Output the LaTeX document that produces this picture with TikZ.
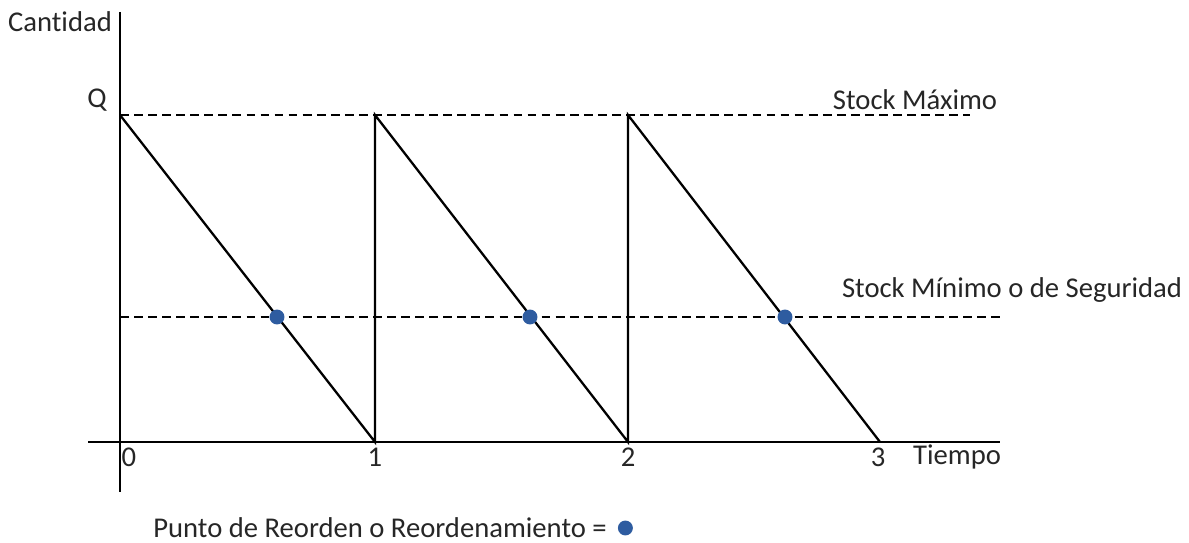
\documentclass[tikz,border=0pt]{standalone}
\usepackage{fontspec}
\setmainfont{Carlito}[Ligatures=NoCommon]
\usetikzlibrary{positioning}
\definecolor{dotblue}{RGB}{46,92,160}
\tikzset{
  eje/.style={line width=1.4pt},
  nivel/.style={line width=1.3pt, dash pattern=on 5pt off 3pt},
  diente/.style={line width=1.3pt},
  reorden/.style={circle, fill=dotblue, inner sep=0pt, minimum size=8.5pt},
  etiq/.style={inner sep=0pt, font=\fontsize{16.3}{19}\selectfont, text=black!85}
}
\begin{document}
\begin{tikzpicture}[x=0.02cm, y=-0.02cm]
      \useasboundingbox (0,0) rectangle (1189,543);

      % ejes
      \coordinate (Ytop) at (120,12);
      \coordinate (Ybot) at (120,492);
      \coordinate (Xleft) at (88,442);
      \coordinate (Xright) at (1000,442);
      \draw[eje] (Ytop) -- (Ybot);
      \draw[eje] (Xleft) -- (Xright);

      % niveles
      \coordinate (Qa) at (120,115);
      \coordinate (Qb) at (970,115);
      \coordinate (Sa) at (120,317);
      \coordinate (Sb) at (1000,317);
      \draw[nivel] (Qa) -- (Qb);
      \draw[nivel] (Sa) -- (Sb);

      % dientes de sierra
      \coordinate (T1) at (375,442);
      \coordinate (T1q) at (375,115);
      \coordinate (T2) at (628,442);
      \coordinate (T2q) at (628,115);
      \coordinate (T3) at (880,442);
      \draw[diente] (Qa) -- (T1) -- (T1q) -- (T2) -- (T2q) -- (T3);

      % puntos de reorden
      \node[reorden] (R1) at (277,317) {};
      \node[reorden] (R2) at (530,317) {};
      \node[reorden] (R3) at (785,317) {};

      % textos
      \node[etiq] (cant) at (60,22) {Cantidad};
      \node[etiq] (Q) at (97,100) {Q};
      \node[etiq] (smax) at (915,100) {Stock Máximo};
      \node[etiq] (smin) at (1012,290) {Stock Mínimo o de Seguridad};
      \node[etiq] (t0) at (129,457) {0};
      \node[etiq] (t1) at (375,457) {1};
      \node[etiq] (t2) at (628,457) {2};
      \node[etiq] (t3) at (878,457) {3};
      \node[etiq] (tiempo) at (957,457) {Tiempo};
      \node[etiq] (leyenda) at (380,528) {Punto de Reorden o Reordenamiento =};
      \node[reorden, right=6pt of leyenda] (R0) {};
    \end{tikzpicture}
\end{document}
